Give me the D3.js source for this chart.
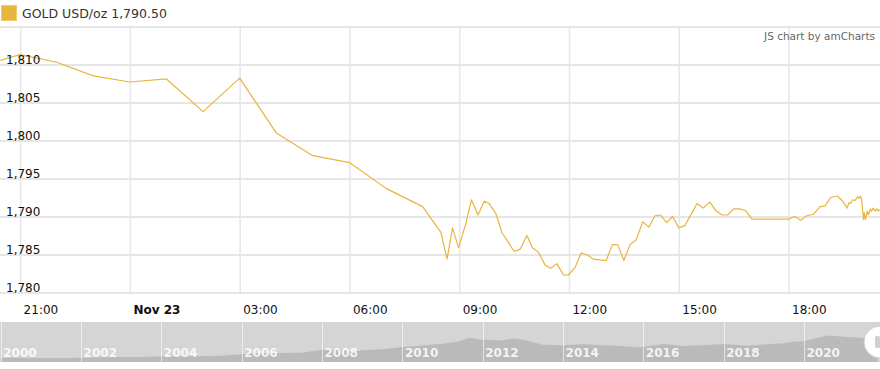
<!DOCTYPE html>
<html>
<head>
<meta charset="utf-8">
<script src="https://cdn.jsdelivr.net/npm/d3@7"></script>
<style>
  body { margin: 0; background: #fff; }
  svg { display: block; font-family: Verdana, "DejaVu Sans", sans-serif; }
</style>
</head>
<body>
<svg id="chart" width="880" height="369"></svg>
<script>
// ********************** //
//          Data          //
// ********************** //

var seriesName = 'GOLD USD/oz';
var lastValue = '1,790.50';

// intraday quotes, Nov 22 - Nov 23
var times = [
  '2021-11-22T20:00', '2021-11-22T21:00', '2021-11-22T22:00', '2021-11-22T23:00',
  '2021-11-23T00:00', '2021-11-23T01:00', '2021-11-23T02:00', '2021-11-23T03:00',
  '2021-11-23T04:00', '2021-11-23T05:00', '2021-11-23T06:00', '2021-11-23T07:00',
  '2021-11-23T08:00', '2021-11-23T08:30', '2021-11-23T08:40', '2021-11-23T08:49',
  '2021-11-23T08:59', '2021-11-23T09:11', '2021-11-23T09:20', '2021-11-23T09:31',
  '2021-11-23T09:41', '2021-11-23T09:49', '2021-11-23T10:00', '2021-11-23T10:10',
  '2021-11-23T10:19', '2021-11-23T10:30', '2021-11-23T10:40', '2021-11-23T10:51',
  '2021-11-23T11:00', '2021-11-23T11:10', '2021-11-23T11:21', '2021-11-23T11:30',
  '2021-11-23T11:40', '2021-11-23T11:51', '2021-11-23T11:59', '2021-11-23T12:10',
  '2021-11-23T12:20', '2021-11-23T12:29', '2021-11-23T12:40', '2021-11-23T13:01',
  '2021-11-23T13:11', '2021-11-23T13:20', '2021-11-23T13:30', '2021-11-23T13:40',
  '2021-11-23T13:50', '2021-11-23T14:01', '2021-11-23T14:11', '2021-11-23T14:21',
  '2021-11-23T14:30', '2021-11-23T14:40', '2021-11-23T14:50', '2021-11-23T15:00',
  '2021-11-23T15:10', '2021-11-23T15:30', '2021-11-23T15:40', '2021-11-23T15:51',
  '2021-11-23T16:01', '2021-11-23T16:11', '2021-11-23T16:20', '2021-11-23T16:30',
  '2021-11-23T16:40', '2021-11-23T16:50', '2021-11-23T17:00', '2021-11-23T18:00',
  '2021-11-23T18:10', '2021-11-23T18:20', '2021-11-23T18:30', '2021-11-23T18:41',
  '2021-11-23T18:52', '2021-11-23T19:00', '2021-11-23T19:09', '2021-11-23T19:20',
  '2021-11-23T19:29', '2021-11-23T19:34', '2021-11-23T19:36', '2021-11-23T19:39',
  '2021-11-23T19:42', '2021-11-23T19:45', '2021-11-23T19:49', '2021-11-23T19:53',
  '2021-11-23T19:56', '2021-11-23T19:58', '2021-11-23T20:00', '2021-11-23T20:03',
  '2021-11-23T20:04', '2021-11-23T20:06', '2021-11-23T20:09', '2021-11-23T20:11',
  '2021-11-23T20:14', '2021-11-23T20:16', '2021-11-23T20:19', '2021-11-23T20:22',
  '2021-11-23T20:25', '2021-11-23T20:27', '2021-11-23T20:30'
];

var prices = [
  1809.9, 1811.3, 1810.3, 1808.5,
  1807.7, 1808.1, 1803.8, 1808.2,
  1801.0, 1798.0, 1797.1, 1793.7,
  1791.3, 1787.9, 1784.4, 1788.5,
  1785.9, 1789.1, 1792.2, 1790.2,
  1792.0, 1791.7, 1790.4, 1787.9,
  1786.8, 1785.4, 1785.7, 1787.5,
  1785.9, 1785.3, 1783.6, 1783.2,
  1783.8, 1782.3, 1782.3, 1783.3,
  1785.2, 1785.0, 1784.4, 1784.2,
  1786.3, 1786.3, 1784.2, 1786.3,
  1786.9, 1789.3, 1788.6, 1790.1,
  1790.2, 1789.2, 1790.0, 1788.5,
  1788.8, 1791.7, 1791.1, 1791.9,
  1790.75, 1790.2, 1790.2, 1791.0,
  1791.0, 1790.75, 1789.65, 1789.65,
  1790.0, 1789.5, 1790.1, 1790.3,
  1791.3, 1791.4, 1792.5, 1792.7,
  1792.0, 1791.4, 1791.1, 1791.8,
  1791.75, 1792.2, 1792.1, 1792.6,
  1792.4, 1792.7, 1792.2, 1789.6,
  1790.5, 1789.6, 1790.7, 1790.2,
  1791.0, 1790.7, 1791.1, 1790.7,
  1791.0, 1790.7, 1790.9
];

var xTicks = ['2021-11-22T21:00', '2021-11-23T00:00', '2021-11-23T03:00', '2021-11-23T06:00',
              '2021-11-23T09:00', '2021-11-23T12:00', '2021-11-23T15:00', '2021-11-23T18:00'];
var xTickLabels = ['21:00', 'Nov 23', '03:00', '06:00', '09:00', '12:00', '15:00', '18:00'];
var yTicks = [1780, 1785, 1790, 1795, 1800, 1805, 1810];

// long-range history shown in the scrollbar
var scrollDates = [
  '2000-01', '2000-07', '2001-01', '2001-07', '2002-01', '2002-07', '2003-01', '2003-07',
  '2004-01', '2004-07', '2005-01', '2005-07', '2006-01', '2006-07', '2007-01', '2007-07',
  '2008-01', '2008-07', '2008-10', '2009-01', '2009-07', '2010-01', '2010-07', '2011-01',
  '2011-06', '2011-09', '2012-01', '2012-07', '2012-10', '2013-01', '2013-07', '2014-01',
  '2014-07', '2015-01', '2015-07', '2015-12', '2016-07', '2017-01', '2017-07', '2018-01',
  '2018-08', '2019-01', '2019-07', '2019-10', '2020-01', '2020-08', '2021-01', '2021-07',
  '2021-11'
];
var scrollPrices = [
  285, 280, 265, 270, 280, 315, 350, 350,
  410, 395, 425, 435, 550, 630, 640, 670,
  900, 900, 750, 860, 940, 1100, 1230, 1360,
  1550, 1820, 1660, 1600, 1750, 1670, 1280, 1240,
  1320, 1250, 1170, 1060, 1340, 1190, 1250, 1330,
  1200, 1290, 1400, 1500, 1550, 1990, 1880, 1800,
  1790
];
var scrollYears = ['2000', '2002', '2004', '2006', '2008', '2010', '2012', '2014', '2016', '2018', '2020'];


// ********************** //
//         Layout         //
// ********************** //

var svg = d3.select('#chart'),
    width = +svg.attr('width');

var gold = '#e8b53f';
var gridColor = '#e6e6e6';
var plotTop = 26.5, plotBottom = 292.5;

var parseT = d3.timeParse('%Y-%m-%dT%H:%M');
var parseM = d3.timeParse('%Y-%m');

var x = d3.scaleTime()
    .domain([parseT('2021-11-22T20:27'), parseT('2021-11-23T20:30')])
    .range([0, width]);

var y = d3.scaleLinear()
    .domain([1780, 1815])
    .range([plotBottom, plotTop]);

// ***** Legend ***** //
svg.append('rect')
    .attr('x', 1.5).attr('y', 5.5)
    .attr('width', 15).attr('height', 15)
    .attr('fill', gold)
    .attr('stroke', '#f0ca6e');

svg.append('text')
    .attr('x', 22).attr('y', 18)
    .attr('font-size', 12.5)
    .attr('fill', '#333')
    .text(seriesName + ' ' + lastValue);

// ***** Grid ***** //
var grid = svg.append('g').attr('class', 'grid');

grid.append('g')
    .call(d3.axisBottom(x)
        .tickValues(xTicks.map(parseT))
        .tickSize(0)
        .tickFormat(''))
    .call(g => g.select('.domain').remove())
    .selectAll('.tick line')
    .attr('y1', plotTop)
    .attr('y2', plotBottom)
    .attr('stroke', gridColor)
    .attr('stroke-width', 1.5);

grid.append('g')
    .call(d3.axisRight(y)
        .tickValues(yTicks.concat([1815]))
        .tickSize(width)
        .tickFormat(''))
    .call(g => g.select('.domain').remove())
    .selectAll('.tick line')
    .attr('stroke', gridColor)
    .attr('stroke-width', 2);

// ***** Line ***** //
svg.append('clipPath')
    .attr('id', 'plotClip')
    .append('rect')
    .attr('x', 0).attr('y', plotTop)
    .attr('width', width).attr('height', plotBottom - plotTop);

var line = d3.line()
    .x((d, i) => x(parseT(times[i])))
    .y(d => y(d));

svg.append('path')
    .datum(prices)
    .attr('clip-path', 'url(#plotClip)')
    .attr('fill', 'none')
    .attr('stroke', gold)
    .attr('stroke-width', 1.2)
    .attr('stroke-linejoin', 'round')
    .attr('d', line);

// ***** Value axis labels ***** //
var yAxis = svg.append('g')
    .attr('transform', 'translate(6,1.5)')
    .call(d3.axisRight(y)
        .tickValues(yTicks)
        .tickSize(0)
        .tickPadding(0)
        .tickFormat(d3.format(',')));
yAxis.select('.domain').remove();
yAxis.selectAll('.tick text')
    .attr('font-family', 'Verdana, "DejaVu Sans", sans-serif')
    .attr('font-size', 12)
    .attr('fill', '#111')
    .attr('dy', '-0.22em');

// ***** Category axis labels ***** //
var xAxis = svg.append('g')
    .attr('transform', 'translate(3,' + (plotBottom + 21.5) + ')')
    .call(d3.axisBottom(x)
        .tickValues(xTicks.map(parseT))
        .tickSize(0)
        .tickPadding(0)
        .tickFormat((d, i) => xTickLabels[i]));
xAxis.select('.domain').remove();
xAxis.selectAll('.tick text')
    .attr('font-family', 'Verdana, "DejaVu Sans", sans-serif')
    .attr('font-size', 12)
    .attr('fill', '#111')
    .attr('text-anchor', 'start')
    .attr('dy', 0)
    .attr('font-weight', (d, i) => xTickLabels[i].indexOf(':') < 0 ? 'bold' : 'normal');

// ***** Credit ***** //
svg.append('text')
    .attr('x', 875).attr('y', 40)
    .attr('text-anchor', 'end')
    .attr('font-size', 10.5)
    .attr('fill', '#666')
    .text('JS chart by amCharts');


// ********************** //
//        Scrollbar       //
// ********************** //

var sbTop = 322, sbBottom = 362;

var sx = d3.scaleTime()
    .domain([parseM('2000-01'), parseM('2022-01')])
    .range([0.7, 884.4]);

var sy = d3.scaleLinear()
    .domain([0, 2000])
    .range([361.5, 335.3]);

var sb = svg.append('g').attr('class', 'scrollbar');

sb.append('rect')
    .attr('x', 0).attr('y', sbTop)
    .attr('width', width).attr('height', sbBottom - sbTop)
    .attr('fill', '#d5d5d5');

var area = d3.area()
    .x((d, i) => sx(parseM(scrollDates[i])))
    .y0(sbBottom)
    .y1(d => sy(d));

sb.append('path')
    .datum(scrollPrices)
    .attr('fill', '#bababa')
    .attr('d', area);

sb.selectAll('line.sep')
    .data(scrollYears)
    .enter()
    .append('line')
    .attr('class', 'sep')
    .attr('x1', d => Math.round(sx(parseM(d + '-01'))) + 0.5)
    .attr('x2', d => Math.round(sx(parseM(d + '-01'))) + 0.5)
    .attr('y1', sbTop)
    .attr('y2', sbBottom)
    .attr('stroke', '#fff')
    .attr('stroke-opacity', 0.6);

sb.selectAll('text.year')
    .data(scrollYears)
    .enter()
    .append('text')
    .attr('class', 'year')
    .attr('x', d => sx(parseM(d + '-01')) + 2.5)
    .attr('y', 357)
    .attr('font-size', 12)
    .attr('font-weight', 'bold')
    .attr('fill', '#fff')
    .attr('fill-opacity', 0.85)
    .text(d => d);

// grip on the right end
sb.append('circle')
    .attr('cx', 880).attr('cy', 342)
    .attr('r', 16)
    .attr('fill', '#fff')
    .attr('stroke', '#cfcfcf');

sb.append('rect')
    .attr('x', 875).attr('y', 336)
    .attr('width', 5).attr('height', 12)
    .attr('rx', 1.5)
    .attr('fill', '#d0d0d0');
</script>
</body>
</html>
